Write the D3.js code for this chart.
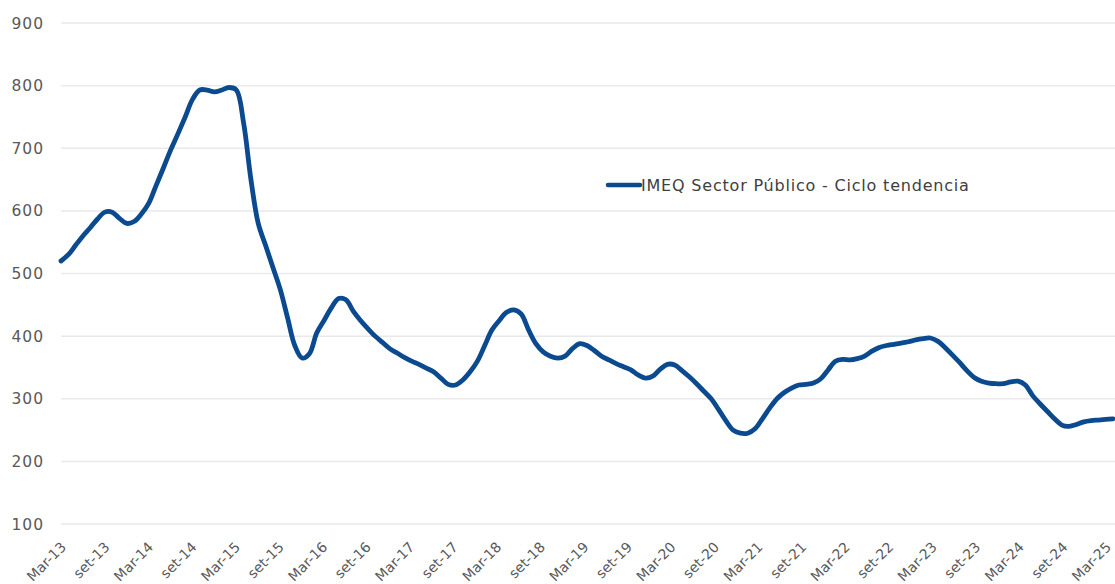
<!DOCTYPE html>
<html><head><meta charset="utf-8">
<script src="https://cdn.jsdelivr.net/npm/d3@7"></script>
<style>
html,body{margin:0;padding:0;background:#fff;}
svg{display:block;font-family:"DejaVu Sans",sans-serif;}
</style></head>
<body><svg id="c" width="1115" height="584"></svg>
<script>
(function(){
// Monthly values, Mar-13 .. Mar-25
const values = [
520,530,545,560,573,587,598,598,588,580,583,595,
612,640,668,697,723,750,778,793,793,790,793,797,
793,740,650,580,545,510,475,430,385,365,372,405,
425,445,460,458,440,425,412,400,390,380,373,366,
360,355,349,343,333,323,322,330,343,360,385,410,
425,438,442,435,410,388,375,368,365,368,380,388,
385,377,368,362,356,351,346,338,333,336,347,355,
354,345,335,324,312,300,283,265,250,245,245,252,
268,285,300,310,317,322,323,325,332,346,360,363,
362,364,368,376,382,385,387,389,391,394,396,397,
392,382,370,358,345,334,328,325,324,324,327,328,
322,305,292,280,268,258,256,259,263,265,266,267,
268
];
const yTicks = [100,200,300,400,500,600,700,800,900];
const xTickLabels = ["Mar-13","set-13","Mar-14","set-14","Mar-15","set-15","Mar-16","set-16","Mar-17","set-17","Mar-18","set-18","Mar-19","set-19","Mar-20","set-20","Mar-21","set-21","Mar-22","set-22","Mar-23","set-23","Mar-24","set-24","Mar-25"];
const seriesName = "IMEQ Sector Público - Ciclo tendencia";

const svg = d3.select("#c");
const mLeft = 61, mRight = 1113, mTop = 23, mBottom = 524;
const x = d3.scaleLinear().domain([0, values.length-1]).range([mLeft, mRight]);
const y = d3.scaleLinear().domain([100, 900]).range([mBottom, mTop]);
const xl = d3.scalePoint().domain(xTickLabels).range([63.5, 1108.5]);

svg.append("g").selectAll("line").data(yTicks).join("line")
  .attr("x1", mLeft).attr("x2", 1115)
  .attr("y1", d=>y(d)).attr("y2", d=>y(d))
  .attr("stroke", "#e9e9e9").attr("stroke-width", 1.5);

svg.append("g").selectAll("text").data(yTicks).join("text")
  .attr("x", 44).attr("y", d=>y(d)).attr("dy", "0.36em")
  .attr("text-anchor", "end").attr("fill", "#595959")
  .style("font-size", "15.5px").style("letter-spacing", "1px").text(d=>d);

svg.append("g").selectAll("text").data(xTickLabels).join("text")
  .attr("transform", d=>`translate(${xl(d)},544.5) rotate(-45)`)
  .attr("text-anchor", "end").attr("dy", "0.35em")
  .attr("fill", "#595959").style("font-size", "14px").text(d=>d);

const line = d3.line().x((d,i)=>x(i)).y(d=>y(d)).curve(d3.curveCatmullRom.alpha(0.5));
svg.append("path").datum(values).attr("d", line)
  .attr("fill", "none").attr("stroke", "#0b4a8f").attr("stroke-width", 4.8)
  .attr("stroke-linejoin", "round").attr("stroke-linecap", "round");

svg.append("line").attr("x1", 608).attr("x2", 640).attr("y1", 185).attr("y2", 185)
  .attr("stroke", "#0b4a8f").attr("stroke-width", 4.5).attr("stroke-linecap", "round");
svg.append("text").attr("x", 641).attr("y", 185).attr("dy", "0.36em")
  .attr("fill", "#404040").style("font-size", "16px").style("letter-spacing", "0.8px").text(seriesName);
})();
</script></body></html>
